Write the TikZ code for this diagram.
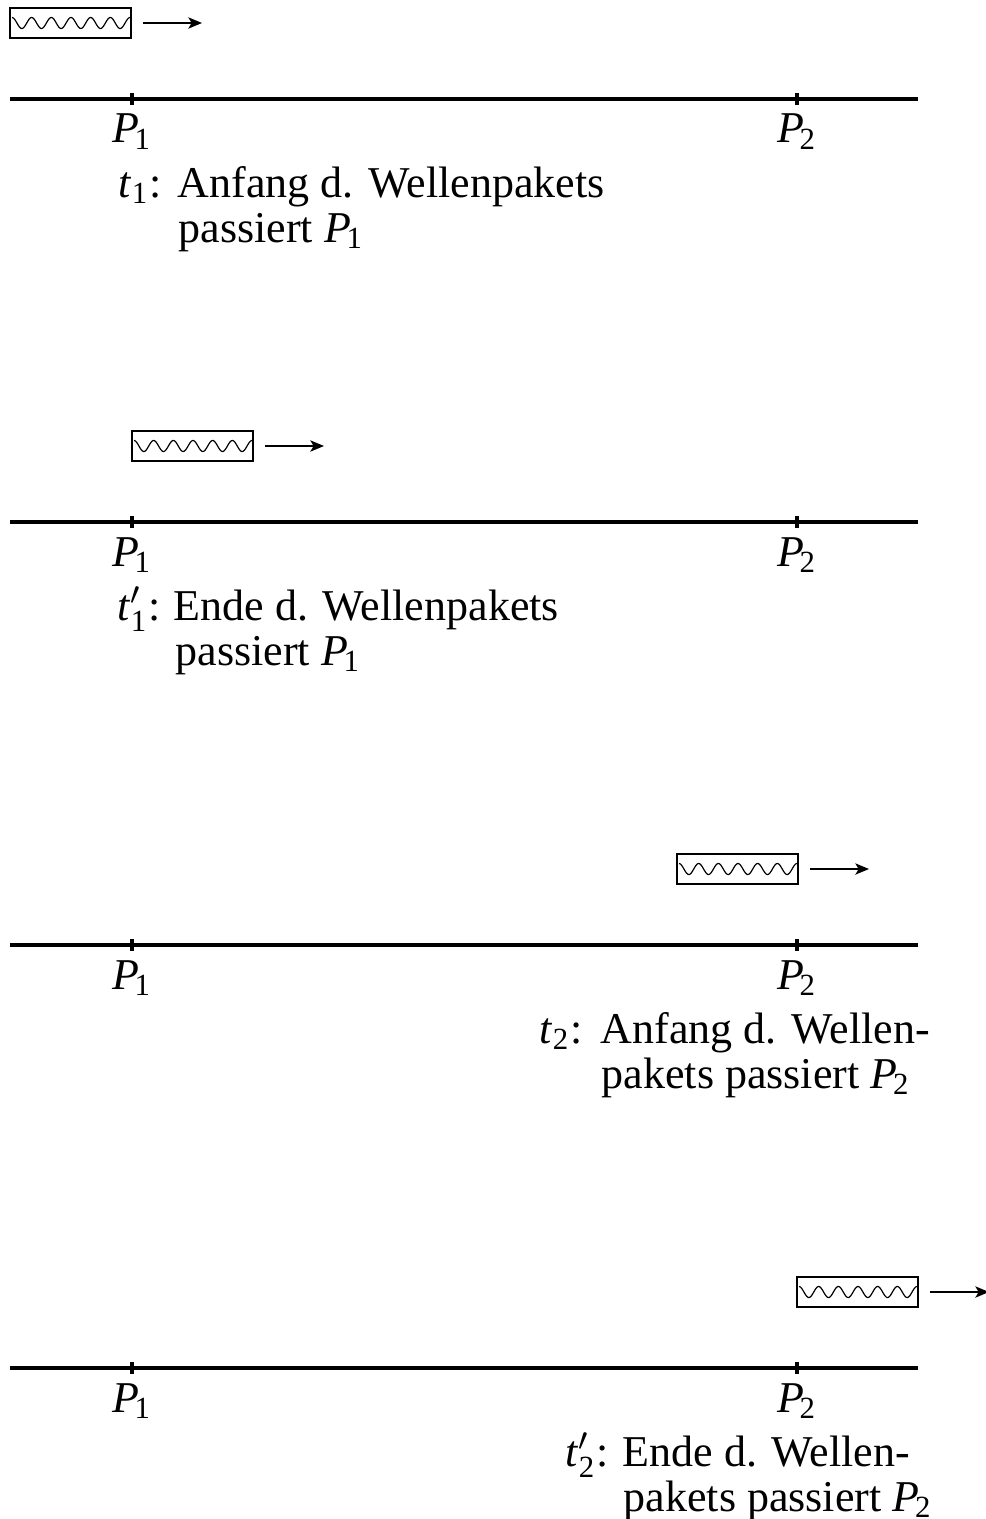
\documentclass[tikz,border=0pt]{standalone}
\usepackage{fontspec}
\usepackage{amsmath}
\setmainfont{Liberation Serif}
\usetikzlibrary{arrows.meta}
\newcommand\Pp[1]{\textit{P}\kern-0.1em$_{\text{#1}}$}
\newcommand\Tt[1]{\textit{t}$_{\text{#1}}$}
\newcommand\Ttp[1]{\textit{t}$'_{\text{#1}}$}
\tikzset{
  lbl/.style={inner sep=0pt, font=\fontsize{11}{11.5}\selectfont},
  axisline/.style={line width=1.2pt},
  tickmark/.style={line width=0.8pt},
  packetbox/.style={draw, line width=0.5pt, minimum width=30.25pt, minimum height=7.5pt, inner sep=0pt},
  wave/.style={line width=0.3pt},
  moveto/.style={line width=0.5pt, -{Stealth[length=3.4pt,width=2.8pt,inset=0.8pt]}}
}
% #1 name, #2 left x, #3 centre y
\newcommand\packet[3]{%
  \node[packetbox] (#1) at ({#2+60.5},#3) {};
  \draw[wave] plot[domain=0:2160, samples=150] ({#2+2+\x/2160*118}, {#3-5.5*cos(\x)});
  \coordinate (#1s) at ({#2+133},#3);
  \coordinate (#1e) at ({#2+192},#3);
  \draw[moveto] (#1s) -- (#1e);
}
\begin{document}
\begin{tikzpicture}[x=0.25pt,y=-0.25pt]
\useasboundingbox (0,0) rectangle (985,1519);
\foreach \i/\Y in {1/0,2/423,3/846,4/1269}{
  \coordinate (L\i) at (10,99+\Y);
  \coordinate (R\i) at (918,99+\Y);
  \coordinate (A\i) at (132,99+\Y);
  \coordinate (B\i) at (797,99+\Y);
  \draw[axisline] (L\i) -- (R\i);
  \draw[tickmark] ([yshift=1.5pt]A\i) -- ([yshift=-1.5pt]A\i);
  \draw[tickmark] ([yshift=1.5pt]B\i) -- ([yshift=-1.5pt]B\i);
  \node[lbl, anchor=base] (pa\i) at (132,143+\Y) {\Pp1};
  \node[lbl, anchor=base] (pb\i) at (797,143+\Y) {\Pp2};
}
\packet{k1}{10}{23}
\packet{k2}{132}{446}
\packet{k3}{677}{869}
\packet{k4}{797}{1292}

\node[lbl, anchor=base west] (t1p) at (118,197) {\Tt1:};
\node[lbl, anchor=base west] (t1a) at (177,197) {Anfang d. Wellenpakets};
\node[lbl, anchor=base west] (t1b) at (178,242) {passiert \Pp1};

\node[lbl, anchor=base west] (t2p) at (117,620) {\Ttp1:};
\node[lbl, anchor=base west] (t2a) at (173,620) {Ende d. Wellenpakets};
\node[lbl, anchor=base west] (t2b) at (175,665) {passiert \Pp1};

\node[lbl, anchor=base west] (t3p) at (539,1043) {\Tt2:};
\node[lbl, anchor=base west] (t3a) at (600,1043) {Anfang d. Wellen-};
\node[lbl, anchor=base west] (t3b) at (601,1088) {pakets passiert \Pp2};

\node[lbl, anchor=base west] (t4p) at (565,1466) {\Ttp2:};
\node[lbl, anchor=base west] (t4a) at (622,1466) {Ende d. Wellen-};
\node[lbl, anchor=base west] (t4b) at (623,1511) {pakets passiert \Pp2};
\end{tikzpicture}
\end{document}
